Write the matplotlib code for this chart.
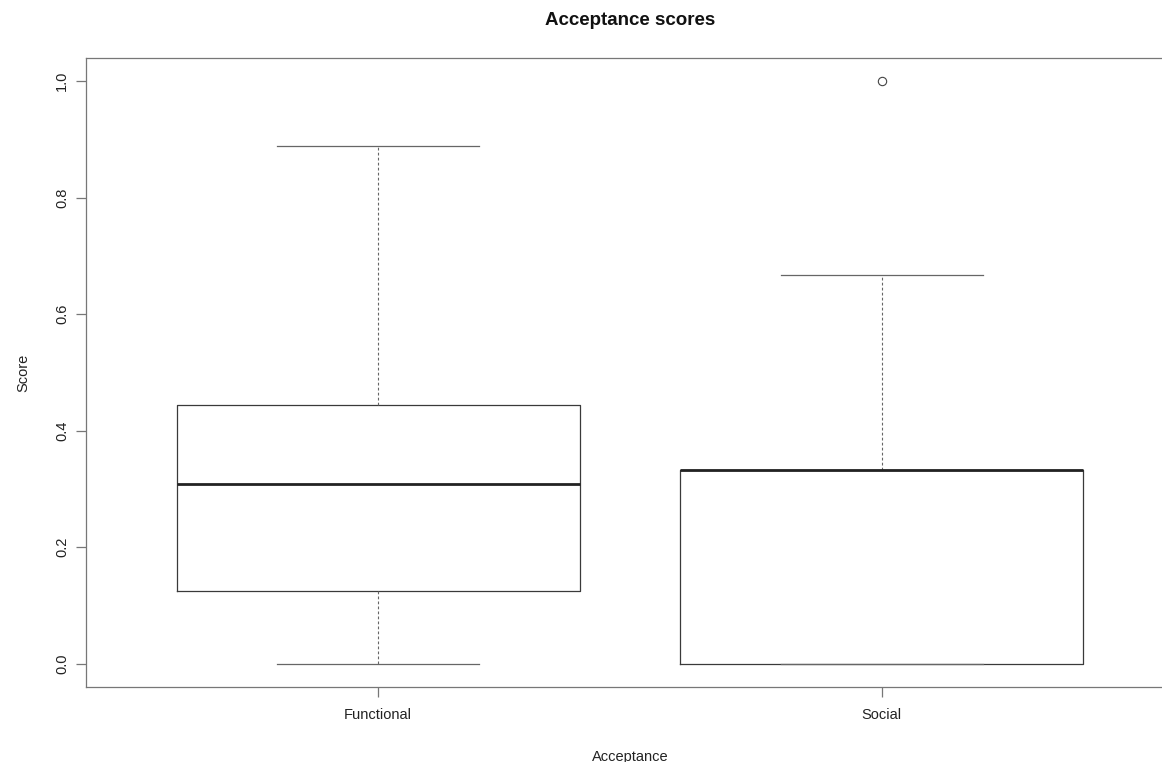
import matplotlib.pyplot as plt

# values (R-style boxplot)
groups = ["Functional", "Social"]
whisker_low = [0.0, 0.0]
q1 = [0.125, 0.0]
median = [0.3085, 0.333]
q3 = [0.444, 0.333]
whisker_high = [0.889, 0.667]
outliers = [[], [1.0]]


def main():
    plt.rcParams["font.family"] = ["Liberation Sans", "DejaVu Sans"]
    fig = plt.figure(figsize=(11.62, 7.62), dpi=100)
    ax = fig.add_axes([0.074, 0.0984, 0.9363, 0.8255])

    stats = []
    for i, name in enumerate(groups):
        stats.append({
            "label": name,
            "whislo": whisker_low[i],
            "q1": q1[i],
            "med": median[i],
            "q3": q3[i],
            "whishi": whisker_high[i],
            "fliers": outliers[i],
        })

    edge = "#3a3a3a"
    ax.bxp(
        stats,
        positions=[1, 2],
        widths=0.8,
        showfliers=True,
        boxprops=dict(color=edge, linewidth=0.9),
        medianprops=dict(color="#222222", linewidth=2.0),
        whiskerprops=dict(color="#666666", linewidth=0.8, linestyle=(0, (2.5, 2.0))),
        capprops=dict(color="#666666", linewidth=0.9),
        capwidths=0.4,
        flierprops=dict(marker="o", markersize=6, markerfacecolor="none",
                        markeredgecolor="#444444", markeredgewidth=0.8),
    )

    ax.set_xlim(0.42, 2.58)
    ax.set_ylim(-0.04, 1.04)
    ax.set_yticks([0.0, 0.2, 0.4, 0.6, 0.8, 1.0])
    ax.set_yticklabels(["0.0", "0.2", "0.4", "0.6", "0.8", "1.0"],
                       rotation=90, va="center")
    ax.set_xticks([1, 2])
    ax.set_xticklabels(groups)

    for s in ax.spines.values():
        s.set_color("#777777")
        s.set_linewidth(0.9)
    ax.tick_params(axis="both", colors="#777777", labelcolor="#222222",
                   length=7, width=0.9, labelsize=10.5, pad=5)
    ax.tick_params(axis="x", pad=8)

    ax.set_xlabel("Acceptance", fontsize=10.5, color="#222222", labelpad=20)
    ax.set_ylabel("Score", fontsize=10.5, color="#222222", labelpad=18)
    fig.text(0.542, 0.973, "Acceptance scores", ha="center", va="center",
             fontsize=13.5, fontweight="bold", color="#111111")

    fig.savefig("out.png", dpi=100)


if __name__ == "__main__":
    main()
